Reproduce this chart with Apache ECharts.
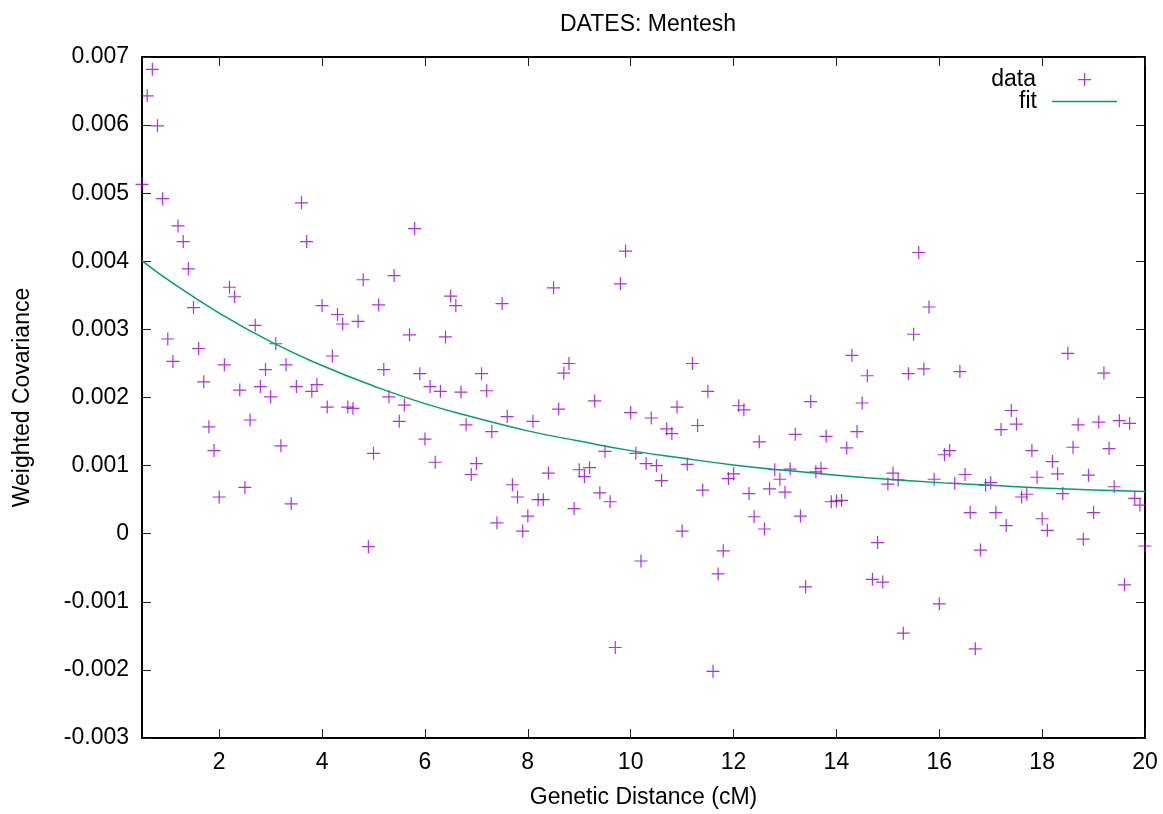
<!DOCTYPE html>
<html>
<head>
<meta charset="utf-8">
<script src="https://cdn.jsdelivr.net/npm/echarts@6/dist/echarts.min.js"></script>
<style>
html,body{margin:0;padding:0;background:#fff;}
#chart{width:1163px;height:814px;}
</style>
</head>
<body>
<div id="chart"></div>
<script>
// Genetic distance (cM) of each data point
const distance = [
  0.5,0.6,0.7,0.8,0.9,1.0,1.1,1.2,1.3,1.4,1.5,1.6,1.7,1.8,1.9,2.0,2.1,2.2,2.3,2.4,
  2.5,2.6,2.7,2.8,2.9,3.0,3.1,3.2,3.3,3.4,3.5,3.6,3.7,3.8,3.9,4.0,4.1,4.2,4.3,4.4,
  4.5,4.6,4.7,4.8,4.9,5.0,5.1,5.2,5.3,5.4,5.5,5.6,5.7,5.8,5.9,6.0,6.1,6.2,6.3,6.4,
  6.5,6.6,6.7,6.8,6.9,7.0,7.1,7.2,7.3,7.4,7.5,7.6,7.7,7.8,7.9,8.0,8.1,8.2,8.3,8.4,
  8.5,8.6,8.7,8.8,8.9,9.0,9.1,9.2,9.3,9.4,9.5,9.6,9.7,9.8,9.9,10.0,10.1,10.2,10.3,10.4,
  10.5,10.6,10.7,10.8,10.9,11.0,11.1,11.2,11.3,11.4,11.5,11.6,11.7,11.8,11.9,12.0,12.1,12.2,12.3,12.4,
  12.5,12.6,12.7,12.8,12.9,13.0,13.1,13.2,13.3,13.4,13.5,13.6,13.7,13.8,13.9,14.0,14.1,14.2,14.3,14.4,
  14.5,14.6,14.7,14.8,14.9,15.0,15.1,15.2,15.3,15.4,15.5,15.6,15.7,15.8,15.9,16.0,16.1,16.2,16.3,16.4,
  16.5,16.6,16.7,16.8,16.9,17.0,17.1,17.2,17.3,17.4,17.5,17.6,17.7,17.8,17.9,18.0,18.1,18.2,18.3,18.4,
  18.5,18.6,18.7,18.8,18.9,19.0,19.1,19.2,19.3,19.4,19.5,19.6,19.7,19.8,19.9,20.0
];
// Weighted covariance of each data point
const covariance = [
  0.00513,0.00643,0.00682,0.00599,0.00492,0.00286,0.00253,0.00452,0.00429,0.00389,
  0.00332,0.00272,0.00223,0.00157,0.00122,0.00054,0.00248,0.00362,0.00348,0.00211,
  0.00068,0.00167,0.00306,0.00216,0.00241,0.00201,0.00279,0.00129,0.00248,0.00044,
  0.00216,0.00486,0.00429,0.00209,0.00219,0.00335,0.00186,0.00261,0.00322,0.00308,
  0.00186,0.00184,0.00312,0.00373,-0.00019,0.00118,0.00336,0.00241,0.00201,0.00379,
  0.00165,0.00189,0.00292,0.00448,0.00235,0.00139,0.00216,0.00105,0.00209,0.00289,
  0.00349,0.00335,0.00208,0.00160,0.00087,0.00103,0.00235,0.00210,0.00150,0.00016,
  0.00338,0.00172,0.00072,0.00054,0.00004,0.00026,0.00165,0.00050,0.00050,0.00089,
  0.00361,0.00183,0.00236,0.00250,0.00037,0.00094,0.00084,0.00097,0.00195,0.00060,
  0.00121,0.00047,-0.00167,0.00367,0.00415,0.00178,0.00118,-0.00040,0.00103,0.00170,
  0.00100,0.00078,0.00154,0.00147,0.00186,0.00004,0.00102,0.00250,0.00159,0.00064,
  0.00209,-0.00202,-0.00059,-0.00025,0.00081,0.00088,0.00188,0.00182,0.00059,0.00025,
  0.00135,0.00007,0.00066,0.00094,0.00080,0.00061,0.00095,0.00146,0.00026,-0.00078,
  0.00194,0.00091,0.00096,0.00143,0.00047,0.00048,0.00049,0.00126,0.00262,0.00150,
  0.00192,0.00232,-0.00067,-0.00013,-0.00071,0.00073,0.00089,0.00079,-0.00146,0.00235,
  0.00293,0.00413,0.00242,0.00333,0.00080,-0.00103,0.00116,0.00122,0.00074,0.00238,
  0.00087,0.00031,-0.00169,-0.00024,0.00071,0.00075,0.00031,0.00153,0.00012,0.00181,
  0.00161,0.00054,0.00058,0.00122,0.00083,0.00022,0.00005,0.00106,0.00088,0.00059,
  0.00265,0.00127,0.00160,-0.00008,0.00086,0.00031,0.00164,0.00236,0.00125,0.00069,
  0.00166,-0.00075,0.00162,0.00052,0.00042,-0.00018
];
// Fit curve
const fitDistance = [0.5,1,2,3,4,5,6,7,8,9,10,11,12,13,14,15,16,17,18,19,20];
const fitCovariance = [0.00401,0.00373,0.00324,0.00282,0.00247,0.00217,0.00191,0.00170,0.00151,0.00136,
  0.00122,0.00111,0.00101,0.00093,0.00086,0.00080,0.00075,0.00071,0.00067,0.00064,0.00062];
// Tick labels
const xTicks = [2,4,6,8,10,12,14,16,18,20];
const yMin = -0.003, yMax = 0.007, yStep = 0.001;

const crossPath = 'path://M0,5.5L12,5.5L12,6.6L0,6.6Z M5.5,0L6.6,0L6.6,12L5.5,12Z';
const FONT = 'Liberation Sans, Arial, sans-serif';
const FS = 23;

const chart = echarts.init(document.getElementById('chart'), null, {renderer: 'canvas'});
const pts = distance.map((d, i) => [d, covariance[i]]);
const fitPts = fitDistance.map((d, i) => [d, fitCovariance[i]]);

const tickStyle = {show: true, inside: true, length: 9, lineStyle: {color: '#222', width: 1}};
const lineStyle = {show: true, onZero: false, lineStyle: {color: '#000', width: 2}};

chart.setOption({
  animation: false,
  backgroundColor: '#fff',
  title: {
    text: 'DATES: Mentesh',
    left: 643, top: 8, textAlign: 'center',
    textStyle: {fontFamily: FONT, fontSize: FS, fontWeight: 'normal', color: '#000'}
  },
  legend: [
    {
      data: [{name: 'data', icon: crossPath}],
      orient: 'vertical', align: 'right', right: 72, top: 68, padding: 0,
      itemWidth: 13, itemHeight: 13,
      textStyle: {fontFamily: FONT, fontSize: FS, color: '#000', padding: [0, 37, 0, 0]},
      selectedMode: false
    },
    {
      data: [{name: 'fit', icon: 'path://M0,0L65,0L65,1.5L0,1.5Z'}],
      orient: 'vertical', align: 'right', right: 46, top: 90, padding: 0,
      itemWidth: 65, itemHeight: 2,
      textStyle: {fontFamily: FONT, fontSize: FS, color: '#000', padding: [0, 10, 0, 0]},
      selectedMode: false
    }
  ],
  grid: {left: 142, top: 57, width: 1003, height: 685, containLabel: false},
  xAxis: [
    {
      type: 'value', min: 0.5, max: 20, position: 'bottom',
      name: 'Genetic Distance (cM)', nameLocation: 'middle', nameGap: 48,
      nameTextStyle: {fontFamily: FONT, fontSize: FS, color: '#000'},
      axisLine: lineStyle,
      axisTick: Object.assign({customValues: xTicks}, tickStyle),
      axisLabel: {customValues: xTicks, margin: 13, fontFamily: FONT, fontSize: FS, color: '#000',
        formatter: v => String(Math.round(v))},
      splitLine: {show: false}
    },
    {
      type: 'value', min: 0.5, max: 20, position: 'top',
      axisLine: lineStyle,
      axisTick: Object.assign({customValues: xTicks}, tickStyle),
      axisLabel: {show: false},
      splitLine: {show: false}
    }
  ],
  yAxis: [
    {
      type: 'value', min: yMin, max: yMax, interval: yStep, position: 'left',
      name: 'Weighted Covariance', nameLocation: 'middle', nameGap: 108, nameRotate: 90,
      nameTextStyle: {fontFamily: FONT, fontSize: FS, color: '#000'},
      axisLine: lineStyle,
      axisTick: tickStyle,
      axisLabel: {margin: 13, padding: [5, 0, 0, 0], fontFamily: FONT, fontSize: FS, color: '#000',
        formatter: v => {const r = Math.round(v * 1000) / 1000; return r === 0 ? '0' : r.toFixed(3);}},
      splitLine: {show: false}
    },
    {
      type: 'value', min: yMin, max: yMax, interval: yStep, position: 'right',
      axisLine: lineStyle,
      axisTick: tickStyle,
      axisLabel: {show: false},
      splitLine: {show: false}
    }
  ],
  series: [
    {
      name: 'data', type: 'scatter', data: pts,
      symbol: crossPath, symbolSize: 13,
      itemStyle: {color: '#9400D3'},
      silent: true, z: 2
    },
    {
      name: 'fit', type: 'line', data: fitPts, smooth: true,
      showSymbol: false, symbol: 'none',
      lineStyle: {color: '#009E73', width: 1.5},
      itemStyle: {color: '#009E73'},
      silent: true, z: 3
    }
  ]
});
</script>
</body>
</html>
